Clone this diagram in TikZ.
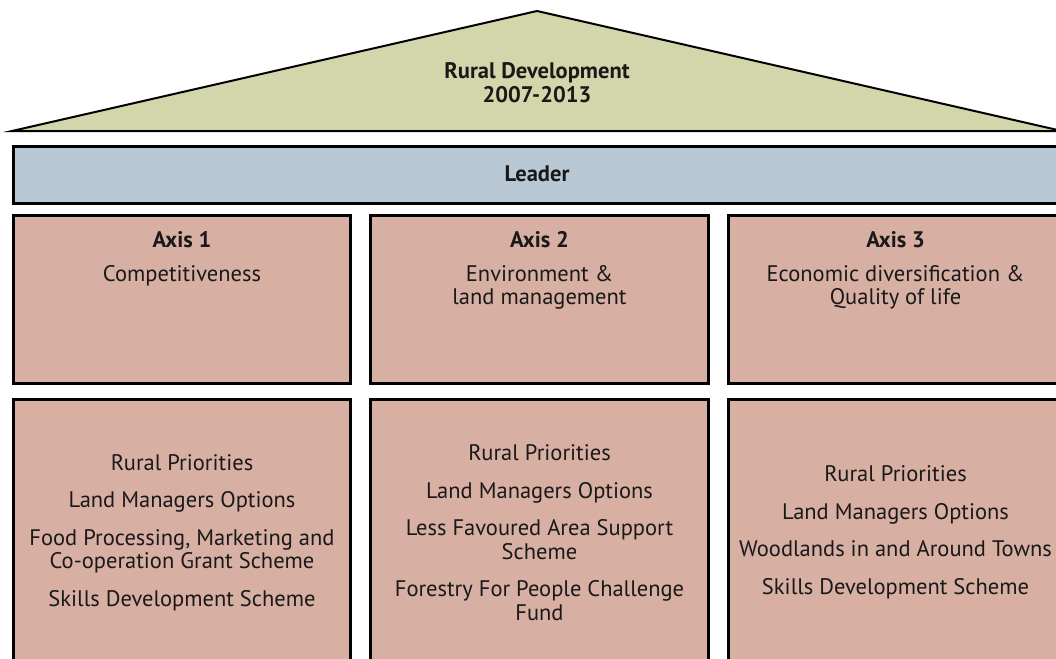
\documentclass[tikz,border=0pt]{standalone}
\usepackage{fontspec}
\setmainfont{PT Sans}
\definecolor{roofc}{RGB}{211,214,171}
\definecolor{leaderc}{RGB}{184,200,212}
\definecolor{boxc}{RGB}{216,175,163}
\tikzset{
  pillar/.style={draw=black, line width=3pt, fill=boxc, inner sep=0pt},
  txt/.style={font=\fontsize{22.5}{23.5}\selectfont, align=center, inner sep=0pt, text=black!90},
  hdr/.style={font=\fontsize{22.5}{24}\selectfont\bfseries, align=center, inner sep=0pt, text=black!90},
}
\begin{document}
\begin{tikzpicture}[x=1pt,y=-1pt]
\useasboundingbox (0,0) rectangle (1056,658);
\clip (0,0) rectangle (1056,658);
\fill[white] (0,0) rectangle (1056,658);
% roof
\draw[line width=2pt, fill=roofc, line join=miter] (12,131) -- (537,11) -- (1062,131) -- cycle;
\node[hdr] (title) at (537,83) {Rural Development\\2007-2013};
% leader
\node[pillar, fill=leaderc, minimum width=1052pt, minimum height=57pt, anchor=north west] (leader) at (12,145) {};
\node[hdr] (leadertxt) at (537,174) {Leader};
% row 1
\node[pillar, minimum width=337pt, minimum height=168pt, anchor=north west] (a1) at (12,214) {};
\node[pillar, minimum width=338pt, minimum height=168pt, anchor=north west] (a2) at (369,214) {};
\node[pillar, minimum width=334pt, minimum height=168pt, anchor=north west] (a3) at (727,214) {};
\node[hdr] (a1h) at (a1.north |- 0,240) {Axis 1};
\node[hdr] (a2h) at (a2.north |- 0,240) {Axis 2};
\node[hdr] (a3h) at (a3.north |- 0,240) {Axis 3};
\node[txt, anchor=north] (a1d) at (a1.north |- 0,265) {Competitiveness};
\node[txt, anchor=north] (a2d) at (a2.north |- 0,265) {Environment \&\\land management};
\node[txt, anchor=north] (a3d) at (a3.north |- 0,265) {Economic diversification \&\\Quality of life};
% row 2
\node[pillar, minimum width=337pt, minimum height=266pt, anchor=north west] (b1) at (12,398) {};
\node[pillar, minimum width=338pt, minimum height=266pt, anchor=north west] (b2) at (369,398) {};
\node[pillar, minimum width=334pt, minimum height=266pt, anchor=north west] (b3) at (727,398) {};
\node[txt] (b1t) at (b1.center) {Rural Priorities\\[14pt]Land Managers Options\\[14pt]Food Processing, Marketing and\\Co-operation Grant Scheme\\[14pt]Skills Development Scheme};
\node[txt] (b2t) at (b2.center) {Rural Priorities\\[14pt]Land Managers Options\\[14pt]Less Favoured Area Support\\Scheme\\[14pt]Forestry For People Challenge\\Fund};
\node[txt] (b3t) at (b3.center) {Rural Priorities\\[14pt]Land Managers Options\\[14pt]Woodlands in and Around Towns\\[14pt]Skills Development Scheme};
\end{tikzpicture}
\end{document}
